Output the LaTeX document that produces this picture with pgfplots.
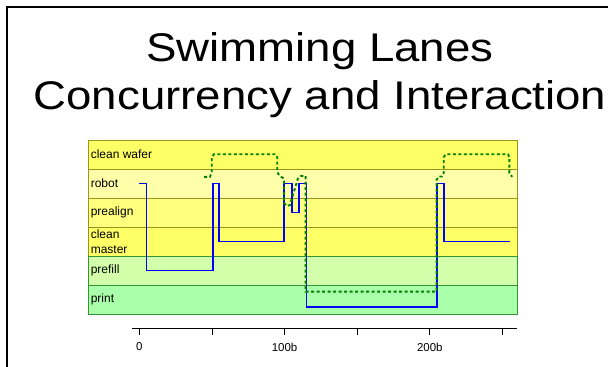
\documentclass[border=0pt]{standalone}
\usepackage{pgfplots}
\pgfplotsset{compat=1.18}
\usepackage{fontspec}
\setmainfont{Liberation Sans}
\definecolor{lanyel}{RGB}{255,255,102}
\definecolor{lanpale}{RGB}{255,255,170}
\definecolor{lanmid}{RGB}{255,255,125}
\definecolor{lanpref}{RGB}{212,255,170}
\definecolor{lanprint}{RGB}{170,255,170}
\definecolor{bordyel}{RGB}{150,150,30}
\definecolor{bordgrn}{RGB}{50,150,50}
\definecolor{dgreen}{RGB}{0,128,0}
\begin{document}
\begin{tikzpicture}
\useasboundingbox (0,0) rectangle (608bp,367bp);
\draw[line width=1.3bp,black] (7bp,0) -- (7bp,360bp) -- (608bp,360bp);
\node[anchor=base,font=\fontsize{40bp}{48bp}\selectfont] at (320bp,305bp) {\scalebox{1.14}[1]{Swimming Lanes}};
\node[anchor=base,font=\fontsize{40bp}{48bp}\selectfont] at (320bp,257bp) {\scalebox{1.14}[1]{Concurrency and Interaction}};
\begin{axis}[
  at={(88bp,53bp)}, anchor=south west,
  width=429bp, height=174bp, scale only axis,
  xmin=-35.3, xmax=259.8, ymin=0, ymax=6,
  hide axis, clip=false,
]
% yellow lanes
\addplot[fill=lanyel, draw=bordyel, line width=0.9bp] coordinates {(-35.3,5)(259.8,5)(259.8,6)(-35.3,6)} -- cycle;
\addplot[fill=lanpale, draw=bordyel, line width=0.9bp] coordinates {(-35.3,4)(259.8,4)(259.8,5)(-35.3,5)} -- cycle;
\addplot[fill=lanmid, draw=bordyel, line width=0.9bp] coordinates {(-35.3,3)(259.8,3)(259.8,4)(-35.3,4)} -- cycle;
\addplot[fill=lanyel, draw=bordyel, line width=0.9bp] coordinates {(-35.3,2)(259.8,2)(259.8,3)(-35.3,3)} -- cycle;
% green lanes
\addplot[fill=lanpref, draw=bordgrn, line width=0.9bp] coordinates {(-35.3,1)(259.8,1)(259.8,2)(-35.3,2)} -- cycle;
\addplot[fill=lanprint, draw=bordgrn, line width=0.9bp] coordinates {(-35.3,0)(259.8,0)(259.8,1)(-35.3,1)} -- cycle;
% lane labels
\begin{scope}[every node/.style={anchor=west, font=\fontsize{12bp}{14.5bp}\selectfont, align=left, inner sep=0pt}]
\node at (axis cs:-33.5,5.5) {clean wafer};
\node at (axis cs:-33.5,4.5) {robot};
\node at (axis cs:-33.5,3.5) {prealign};
\node at (axis cs:-33.5,2.5) {clean\\master};
\node at (axis cs:-33.5,1.5) {prefill};
\node at (axis cs:-33.5,0.5) {print};
\end{scope}
% blue activity line
\addplot[blue, line width=1.7bp, line join=miter] coordinates {
(0,4.5)(5,4.5)(5,1.5)(50.5,1.5)(50.5,4.5)(54.6,4.5)(54.6,2.5)(99.7,2.5)(99.7,4.5)(105,4.5)(105,3.5)(110,3.5)(110,4.5)(114.9,4.5)(114.9,0.25)(204.7,0.25)(204.7,4.5)(209.6,4.5)(209.6,2.5)(254.7,2.5)};
% green dashed line
\addplot[dgreen, line width=1.9bp, dash pattern=on 3bp off 2.5bp] coordinates {
(44.5,4.73)(48.6,4.73)(49.8,4.90)(49.8,5.41)(51.4,5.51)(93.7,5.51)(94.9,5.41)(94.9,4.90)(96.1,4.78)(98.8,4.69)(99.5,4.59)(99.5,3.83)(101.6,3.72)(103.6,3.76)(109.1,4.67)(111.2,4.76)(114.4,4.76)(114.4,0.77)(204.5,0.77)(204.5,4.62)(205.8,4.74)(208.1,4.74)(209.4,4.86)(209.4,5.41)(210.8,5.51)(253.6,5.51)(254.5,5.41)(254.5,4.86)(256.5,4.73)};
\end{axis}
\begin{axis}[
  at={(132.3bp,38.7bp)}, anchor=south west,
  width=384.4bp, height=10bp, scale only axis,
  xmin=-4.8, xmax=259.8, ymin=0, ymax=1,
  axis x line=bottom, axis y line=none,
  x axis line style={-, black, line width=0.8bp},
  xtick={0,50,100,150,200,250},
  xticklabels={0,,100b,,200b,},
  tick align=outside, major tick length=7bp,
  tick style={black, line width=0.8bp},
  /pgf/number format/assume math mode=true,
  xticklabel style={font=\fontsize{11.5bp}{13bp}\selectfont, yshift=-4bp},
]
\addplot[draw=none] coordinates {(0,0)(250,0)};
\end{axis}
\end{tikzpicture}
\end{document}
